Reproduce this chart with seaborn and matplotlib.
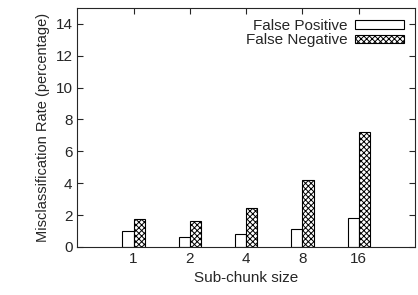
import pandas as pd
import matplotlib
matplotlib.use("Agg")
import matplotlib.pyplot as plt
import seaborn as sns

# data
sizes = ["1", "2", "4", "8", "16"]
false_pos = [0.97, 0.65, 0.80, 1.10, 1.80]
false_neg = [1.73, 1.63, 2.42, 4.23, 7.20]

df = pd.DataFrame({
    "size": sizes * 2,
    "rate": false_pos + false_neg,
    "kind": ["False Positive"] * len(sizes) + ["False Negative"] * len(sizes),
})

sns.set_style("ticks")
plt.rcParams["font.family"] = ["Liberation Sans", "DejaVu Sans"]
plt.rcParams["hatch.linewidth"] = 0.7

fig, ax = plt.subplots(figsize=(4.18, 2.95), dpi=100)
sns.barplot(data=df, x="size", y="rate", hue="kind", order=sizes,
            hue_order=["False Positive", "False Negative"],
            width=0.4, palette=["white", "white"], edgecolor="black",
            linewidth=0.8, ax=ax)

# hatch the false negative bars
n = len(sizes)
for i, p in enumerate(ax.patches):
    if n <= i < 2 * n:
        p.set_hatch("xxxxxx")

ax.set_xlim(-1, 5)
ax.set_ylim(0, 15)
ax.set_yticks(range(0, 15, 2))
ax.set_xlabel("Sub-chunk size", fontsize=11)
ax.set_ylabel("Misclassification Rate (percentage)", fontsize=10.5)
ax.tick_params(direction="in", top=True, right=True, labelsize=11, length=4)
for s in ax.spines.values():
    s.set_linewidth(0.8)

handles, labels = ax.get_legend_handles_labels()
handles[1].set_hatch("xxxxxx")
ax.legend(handles, labels, loc="upper right", frameon=False, markerfirst=False,
          fontsize=11, handlelength=3.2, handleheight=0.5, labelspacing=0.05,
          borderaxespad=0.3, handletextpad=0.5)

plt.subplots_adjust(left=0.185, right=0.993, top=0.973, bottom=0.163)
plt.savefig("out.png", dpi=100)
